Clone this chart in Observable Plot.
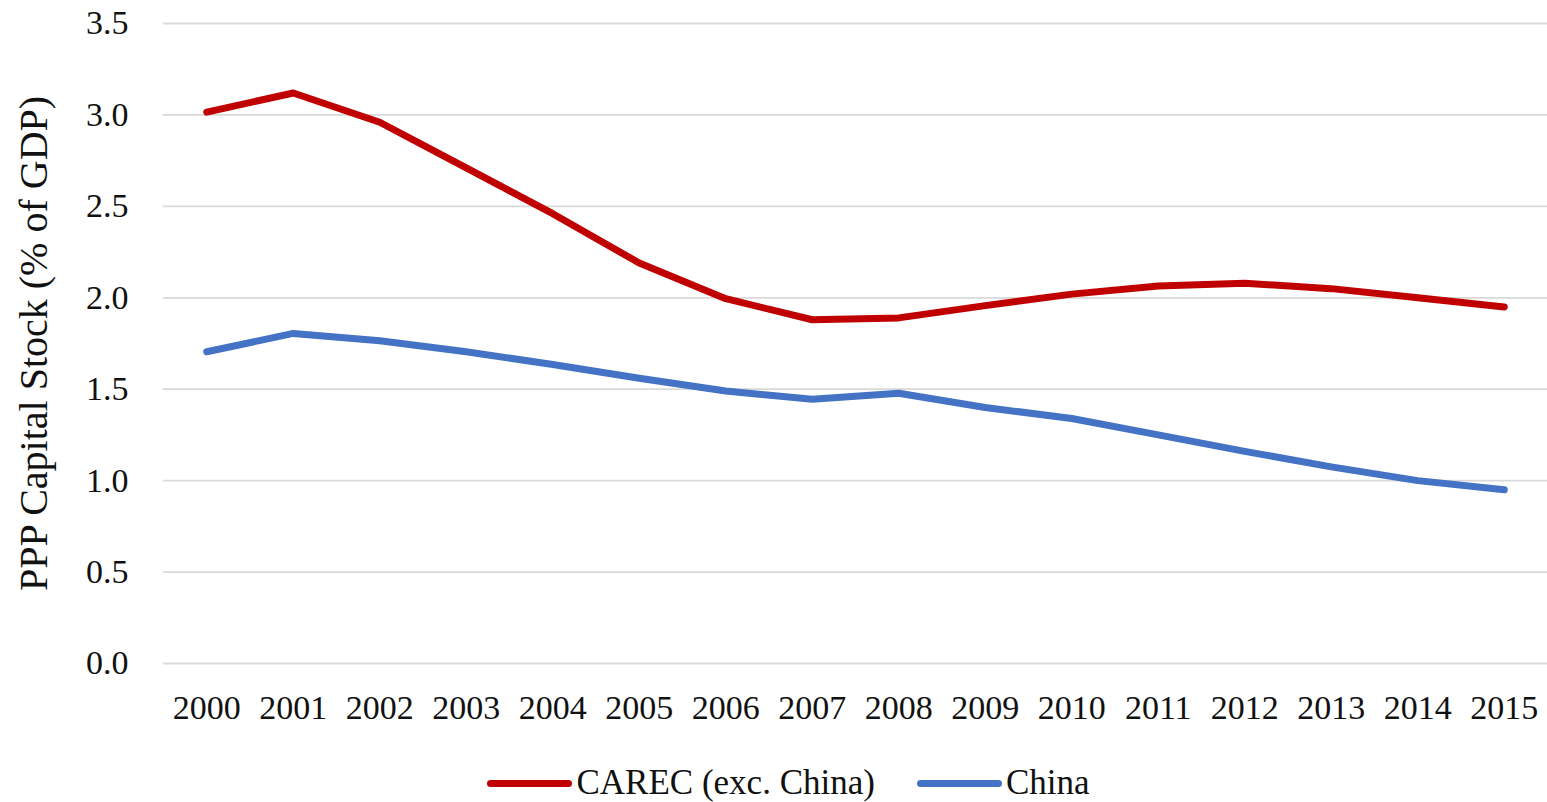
<!DOCTYPE html>
<html>
<head>
<meta charset="utf-8">
<script src="https://cdn.jsdelivr.net/npm/d3@7"></script>
<script src="https://cdn.jsdelivr.net/npm/@observablehq/plot@0.6"></script>
<style>
  html, body { margin: 0; padding: 0; background: #fff; }
  #chart { width: 1547px; font-family: "Liberation Serif", "Times New Roman", serif; color: #111; }
  .legend { display: flex; justify-content: center; align-items: center; height: 38px; padding-top: 24px; font-size: 35px; padding-left: 30px; }
  .legend .item { display: flex; align-items: center; margin: 0 21px; }
  .legend .swatch { width: 85px; height: 7px; border-radius: 4px; margin-right: 4px; }
</style>
</head>
<body>
<div id="chart"></div>
<script>
// Years on the category axis
const years = ["2000","2001","2002","2003","2004","2005","2006","2007","2008","2009","2010","2011","2012","2013","2014","2015"];
// Series names and colours
const seriesNames = ["CAREC (exc. China)", "China"];
const seriesColors = ["#C00000", "#4472C4"];
// PPP capital stock, % of GDP
const carec = [3.015, 3.12, 2.96, 2.71, 2.46, 2.19, 1.995, 1.88, 1.89, 1.957, 2.02, 2.065, 2.08, 2.05, 2.0, 1.95];
const china = [1.705, 1.805, 1.765, 1.705, 1.635, 1.56, 1.49, 1.445, 1.478, 1.40, 1.34, 1.25, 1.16, 1.075, 1.0, 0.95];
// Value axis ticks
const yTicks = [0, 0.5, 1.0, 1.5, 2.0, 2.5, 3.0, 3.5];

const rows = [
  ...years.map((y, i) => ({year: y, value: carec[i], series: seriesNames[0]})),
  ...years.map((y, i) => ({year: y, value: china[i], series: seriesNames[1]}))
];

const chart = Plot.plot({
  width: 1547,
  height: 740,
  marginLeft: 163,
  marginRight: 0,
  marginTop: 23,
  marginBottom: 77,
  style: {fontFamily: "'Liberation Serif', 'Times New Roman', serif", color: "#111", background: "#fff"},
  x: {type: "point", domain: years, padding: 0.5, round: false, label: null},
  y: {domain: [0, 3.5], label: null},
  color: {domain: seriesNames, range: seriesColors},
  marks: [
    Plot.gridY(yTicks, {stroke: "#d9d9d9", strokeOpacity: 1, strokeWidth: 1.8}),
    Plot.axisY(yTicks, {tickSize: 0, tickPadding: 35, fontSize: 34, tickFormat: d => d.toFixed(1), label: null}),
    Plot.axisY({tickSize: 0, ticks: [], fontSize: 40,
      label: "PPP Capital Stock (% of GDP)", labelAnchor: "center", labelOffset: 145, labelArrow: "none"}),
    Plot.axisX({tickSize: 0, tickPadding: 31, fontSize: 34, label: null}),
    Plot.lineY(rows, {x: "year", y: "value", z: "series", stroke: "series",
      strokeWidth: 7, strokeLinecap: "round", strokeLinejoin: "round"})
  ]
});

const root = document.getElementById("chart");
root.appendChild(chart);

// Legend below the plot
const legend = document.createElement("div");
legend.className = "legend";
seriesNames.forEach((name, i) => {
  const item = document.createElement("div");
  item.className = "item";
  const sw = document.createElement("span");
  sw.className = "swatch";
  sw.style.background = seriesColors[i];
  const label = document.createElement("span");
  label.textContent = name;
  item.appendChild(sw);
  item.appendChild(label);
  legend.appendChild(item);
});
root.appendChild(legend);
</script>
</body>
</html>
